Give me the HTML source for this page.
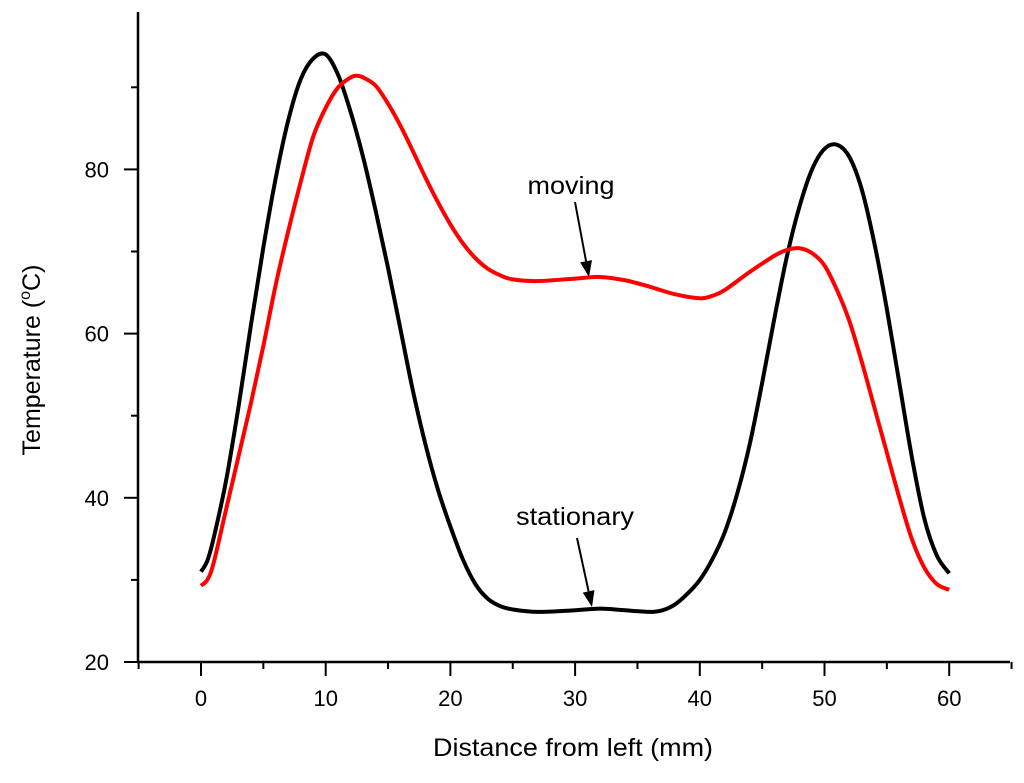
<!DOCTYPE html>
<html><head><meta charset="utf-8"><style>
body{margin:0;background:#fff;}
svg text{font-family:"Liberation Sans",sans-serif;fill:#000;}
</style></head><body>
<svg id="chart" width="1024" height="778" xmlns="http://www.w3.org/2000/svg">
<g id="axes"></g>
<g id="series"></g>
<text x="573" y="756" font-size="25" text-anchor="middle" textLength="280" lengthAdjust="spacingAndGlyphs">Distance from left (mm)</text>
<text transform="translate(40,360) rotate(-90)" font-size="25" text-anchor="middle">Temperature (<tspan font-size="16" dy="-10">o</tspan><tspan dy="10">C)</tspan></text>
<text x="571" y="194" font-size="25" text-anchor="middle" textLength="87" lengthAdjust="spacingAndGlyphs">moving</text>
<text x="575" y="525" font-size="25" text-anchor="middle" textLength="118" lengthAdjust="spacingAndGlyphs">stationary</text>
</svg>
<script>
const xTicks=[0,10,20,30,40,50,60];
const yTicks=[20,40,60,80];
const stX=[0,0.5,1,2,3,4,5,6,7,8,9,10,11,12,13,14,15,16,17,18,19,20,21,22,23,24,25,27,30,32,34,36,37,38,39,40,41,42,43,44,45,46,47,48,49,50,51,52,53,54,55,56,57,58,59,60];
const stY=[31,32.3,35,42,51,61,70.5,79,86,91,93.5,94,91.5,87,81.5,75,68,60.5,53,46.5,41,36.5,32.5,29.5,27.7,26.8,26.4,26.1,26.3,26.5,26.3,26.1,26.3,27,28.3,30,32.5,35.8,40.5,46.5,54,62,69.5,75.5,80,82.5,83,81.5,77.5,71,63,54,45,37.5,33,30.8];
const mvX=[0,0.5,1,2,3,4,5,6,7,8,9,10,11,12,12.5,13,14,15,16,17,18,19,20,21,22,23,24,25,27,30,32,34,36,38,40,41,42,44,46,47,48,49,50,51,52,53,54,55,56,57,58,59,60];
const mvY=[29.3,30,32,38.5,45,51.5,58.5,66,72.5,78.5,84,87.5,90,91.2,91.4,91.2,90.2,88,85.3,82.2,79,76,73.3,71,69.2,67.9,67.1,66.6,66.4,66.7,66.9,66.5,65.7,64.8,64.3,64.6,65.3,67.5,69.5,70.2,70.4,69.8,68.3,65.3,61.5,56.5,51,45.5,40,35,31.5,29.5,28.8];
const NS='http://www.w3.org/2000/svg';
const X=v=>201+(v-0)*12.47;
const Y=v=>662-(v-20)*8.21;
function mk(t,a,p){const e=document.createElementNS(NS,t);for(const k in a)e.setAttribute(k,a[k]);p.appendChild(e);return e;}
const ax=document.getElementById('axes');
let e=mk('line',{x1:138,y1:12,x2:138,y2:662,stroke:'#000','stroke-width':2.5},ax);


e=mk('line',{x1:137,y1:662,x2:1010,y2:662,stroke:'#000','stroke-width':2.5},ax);


for(let v=-5;v<=65;v+=5){const major=v%10===0;
 e=mk('line',{x1:X(v),y1:662,x2:X(v),y2:major?676:669,stroke:'#000','stroke-width':2},ax);
 
 }
xTicks.forEach(v=>{e=mk('text',{x:X(v),y:706,'font-size':22,'text-anchor':'middle'},ax);e.textContent=v;
 
 });
for(let v=20;v<=95;v+=10){const major=v%20===0;
 e=mk('line',{x1:major?124:131,y1:Y(v),x2:138,y2:Y(v),stroke:'#000','stroke-width':2},ax);
 
 }
yTicks.forEach(v=>{e=mk('text',{x:109,y:Y(v)+8,'font-size':22,'text-anchor':'end'},ax);e.textContent=v;
 
 });
function path(xs,ys){const p=xs.map((x,i)=>[X(x),Y(ys[i])]);let d='M'+p[0][0]+','+p[0][1];
 for(let i=0;i<p.length-1;i++){const a=p[i-1]||p[i],b=p[i],c=p[i+1],n=p[i+2]||c;
  d+=` C${b[0]+(c[0]-a[0])/6},${b[1]+(c[1]-a[1])/6} ${c[0]-(n[0]-b[0])/6},${c[1]-(n[1]-b[1])/6} ${c[0]},${c[1]}`;}return d;}
const sg=document.getElementById('series');
e=mk('path',{d:path(stX,stY),fill:'none',stroke:'#000','stroke-width':4,'stroke-linejoin':'round'},sg);


e=mk('path',{d:path(mvX,mvY),fill:'none',stroke:'#ff0000','stroke-width':4,'stroke-linejoin':'round'},sg);


function arrow(x1,y1,x2,y2,name){const g=mk('g',{},sg);
 
 
 const ang=Math.atan2(y2-y1,x2-x1),L=16,W=6;
 const bx=x2-L*Math.cos(ang),by=y2-L*Math.sin(ang);
 mk('line',{x1,y1,x2:bx,y2:by,stroke:'#000','stroke-width':2},g);
 mk('polygon',{points:`${x2},${y2} ${bx+W*Math.sin(ang)},${by-W*Math.cos(ang)} ${bx-W*Math.sin(ang)},${by+W*Math.cos(ang)}`,fill:'#000'},g);}
arrow(575,202,589,277,'moving-arrow');
arrow(577,538,592,607,'stationary-arrow');
</script>
</body></html>
